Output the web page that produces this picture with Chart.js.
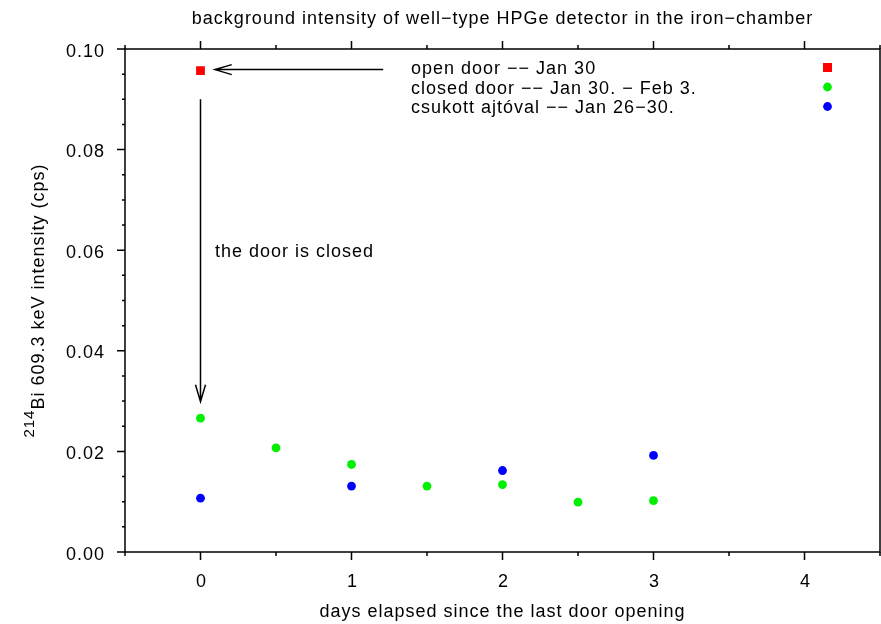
<!DOCTYPE html>
<html>
<head>
<meta charset="utf-8">
<title>HPGe background intensity</title>
<script src="https://cdn.jsdelivr.net/npm/chart.js@4.4.1/dist/chart.umd.min.js"></script>
<style>
  html, body { margin: 0; padding: 0; background: #fff; overflow: hidden; }
  canvas { display: block; }
</style>
</head>
<body>
<canvas id="chart" width="881" height="624"></canvas>
<script>
// days elapsed since the last door opening, and the 214Bi 609.3 keV rate (cps)
const openDays = [0];
const openRate = [0.0957];
const closedDays = [0, 0.5, 1, 1.5, 2, 2.5, 3];
const closedRate = [0.0266, 0.0207, 0.0174, 0.0131, 0.0134, 0.0099, 0.0102];
const csukottDays = [0, 1, 2, 3];
const csukottRate = [0.0107, 0.0131, 0.0162, 0.0192];

const seriesLabels = [
  'open door −− Jan 30',
  'closed door −− Jan 30. − Feb 3.',
  'csukott ajtóval −− Jan 26−30.'
];
const xTickLabels = ['0', '1', '2', '3', '4'];
const yTickLabels = ['0.00', '0.02', '0.04', '0.06', '0.08', '0.10'];

const FONT = '"Liberation Sans", Arial, Helvetica, sans-serif';

function points(xs, ys) {
  return xs.map((x, i) => ({ x: x, y: ys[i] }));
}

function setFont(ctx, size) {
  ctx.font = size + 'px ' + FONT;
  ctx.letterSpacing = '1px';
}

function isLabelled(value, labels) {
  return labels.some(l => Math.abs(Number(l) - value) < 1e-9);
}

// straight arrow with an open V head at (x1, y1)
function arrow(ctx, x0, y0, x1, y1) {
  const a = Math.atan2(y1 - y0, x1 - x0);
  const len = 17.5, spread = 0.29;
  ctx.beginPath();
  ctx.moveTo(x0, y0);
  ctx.lineTo(x1, y1);
  ctx.moveTo(x1 - len * Math.cos(a - spread), y1 - len * Math.sin(a - spread));
  ctx.lineTo(x1, y1);
  ctx.lineTo(x1 - len * Math.cos(a + spread), y1 - len * Math.sin(a + spread));
  ctx.stroke();
}

// gnuplot-like frame, ticks, labels, key and arrows
const gnuplotFrame = {
  id: 'gnuplotFrame',
  afterDraw(chart) {
    const ctx = chart.ctx;
    const area = chart.chartArea;
    const xs = chart.scales.x;
    const ys = chart.scales.y;
    const midX = (area.left + area.right) / 2;

    ctx.save();
    ctx.strokeStyle = '#000';
    ctx.fillStyle = '#000';
    ctx.lineWidth = 1.5;
    ctx.strokeRect(area.left, area.top, area.right - area.left, area.bottom - area.top);

    // x ticks, bottom and top, pointing outwards
    ctx.beginPath();
    xs.ticks.forEach(t => {
      const px = xs.getPixelForValue(t.value);
      const len = isLabelled(t.value, xTickLabels) ? 8 : 4;
      ctx.moveTo(px, area.bottom);
      ctx.lineTo(px, area.bottom + len);
      ctx.moveTo(px, area.top);
      ctx.lineTo(px, area.top - len);
    });
    // y ticks on the left
    ys.ticks.forEach(t => {
      const py = ys.getPixelForValue(t.value);
      const len = isLabelled(t.value, yTickLabels) ? 8 : 3;
      ctx.moveTo(area.left, py);
      ctx.lineTo(area.left - len, py);
    });
    ctx.stroke();

    setFont(ctx, 18);
    ctx.textBaseline = 'alphabetic';
    ctx.textAlign = 'center';
    xTickLabels.forEach(l => {
      ctx.fillText(l, xs.getPixelForValue(Number(l)) + 1, area.bottom + 35);
    });
    ctx.textAlign = 'right';
    yTickLabels.forEach(l => {
      ctx.fillText(l, area.left - 20, ys.getPixelForValue(Number(l)) + 7.5);
    });

    // title and x axis title
    ctx.textAlign = 'center';
    ctx.fillText('background intensity of well−type HPGe detector in the iron−chamber', midX, area.top - 25);
    ctx.fillText('days elapsed since the last door opening', midX, area.bottom + 65);

    // rotated y axis title with superscript mass number
    ctx.save();
    ctx.translate(44, (area.top + area.bottom) / 2);
    ctx.rotate(-Math.PI / 2);
    ctx.textAlign = 'left';
    const main = 'Bi 609.3 keV intensity (cps)';
    setFont(ctx, 15);
    const supW = ctx.measureText('214').width;
    setFont(ctx, 18);
    const mainW = ctx.measureText(main).width;
    const start = -(supW + mainW) / 2;
    setFont(ctx, 15);
    ctx.fillText('214', start, -10);
    setFont(ctx, 18);
    ctx.fillText(main, start + supW, 0);
    ctx.restore();

    // key in the top right corner
    setFont(ctx, 18);
    ctx.textAlign = 'left';
    chart.data.datasets.forEach((ds, i) => {
      const base = area.top + 25 + i * 19.5;
      ctx.fillStyle = '#000';
      ctx.fillText(ds.label, area.right - 469, base);
      const mx = area.right - 52.5, my = base - 6.5;
      ctx.fillStyle = ds.pointBackgroundColor;
      ctx.beginPath();
      if (ds.pointStyle === 'rect') {
        ctx.rect(mx - 4.5, my - 4.5, 9, 9);
      } else {
        ctx.arc(mx, my, 4.4, 0, Math.PI * 2);
      }
      ctx.fill();
    });

    // arrows and note, positioned in data units
    ctx.fillStyle = '#000';
    ctx.lineWidth = 1.5;
    arrow(ctx, xs.getPixelForValue(1.21), ys.getPixelForValue(0.0959),
               xs.getPixelForValue(0.096), ys.getPixelForValue(0.0959));
    arrow(ctx, xs.getPixelForValue(0), ys.getPixelForValue(0.0900),
               xs.getPixelForValue(0), ys.getPixelForValue(0.0299));
    ctx.fillText('the door is closed', xs.getPixelForValue(0.096), ys.getPixelForValue(0.0586));

    ctx.restore();
  }
};

new Chart(document.getElementById('chart'), {
  type: 'scatter',
  data: {
    datasets: [
      {
        label: seriesLabels[0],
        data: points(openDays, openRate),
        pointStyle: 'rect',
        pointRadius: 6.2,
        pointBackgroundColor: '#ff0000',
        backgroundColor: '#ff0000',
        pointBorderWidth: 0
      },
      {
        label: seriesLabels[1],
        data: points(closedDays, closedRate),
        pointStyle: 'circle',
        pointRadius: 4.4,
        pointBackgroundColor: '#00f000',
        backgroundColor: '#00f000',
        pointBorderWidth: 0
      },
      {
        label: seriesLabels[2],
        data: points(csukottDays, csukottRate),
        pointStyle: 'circle',
        pointRadius: 4.4,
        pointBackgroundColor: '#0000ff',
        backgroundColor: '#0000ff',
        pointBorderWidth: 0
      }
    ]
  },
  options: {
    responsive: false,
    animation: false,
    events: [],
    devicePixelRatio: 1,
    layout: { autoPadding: false, padding: { left: 125, right: 1, top: 49, bottom: 72 } },
    plugins: {
      legend: { display: false },
      title: { display: false },
      tooltip: { enabled: false }
    },
    scales: {
      x: {
        type: 'linear',
        min: -0.5,
        max: 4.5,
        ticks: { stepSize: 0.5, display: false, autoSkip: false },
        grid: { display: false },
        border: { display: false },
        afterFit: s => { s.height = 0; }
      },
      y: {
        type: 'linear',
        min: 0,
        max: 0.1,
        ticks: { stepSize: 0.005, display: false, autoSkip: false },
        grid: { display: false },
        border: { display: false },
        afterFit: s => { s.width = 0; }
      }
    }
  },
  plugins: [gnuplotFrame]
});
</script>
</body>
</html>
